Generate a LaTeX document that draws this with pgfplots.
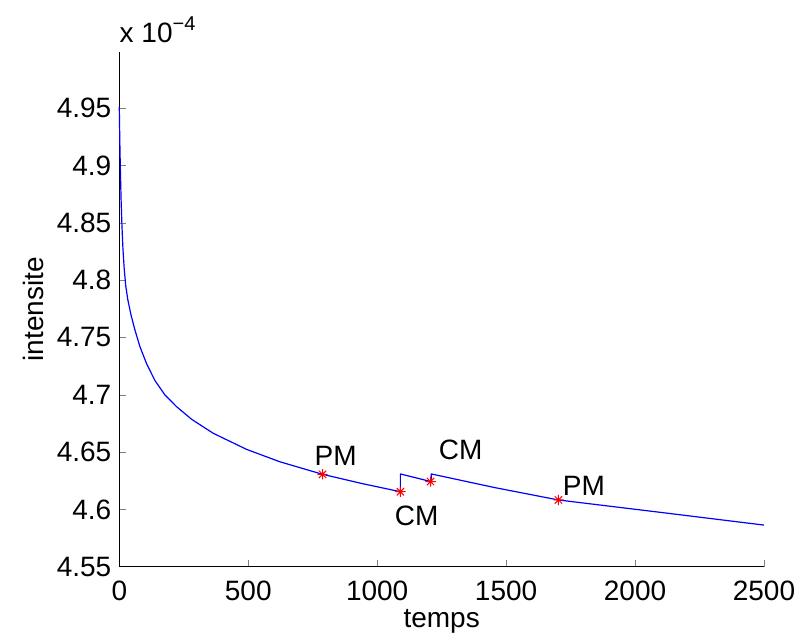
\documentclass[border=0pt]{standalone}
\usepackage{pgfplots}
\pgfplotsset{compat=1.18}
\usepackage{fontspec}
\setmainfont{Liberation Sans}
\pgfdeclareplotmark{mstar}{%
  \pgfpathmoveto{\pgfqpoint{0pt}{\pgfplotmarksize}}%
  \pgfpathlineto{\pgfqpoint{0pt}{-\pgfplotmarksize}}%
  \pgfpathmoveto{\pgfqpoint{\pgfplotmarksize}{0pt}}%
  \pgfpathlineto{\pgfqpoint{-\pgfplotmarksize}{0pt}}%
  \pgfpathmoveto{\pgfqpoint{0.707\pgfplotmarksize}{0.707\pgfplotmarksize}}%
  \pgfpathlineto{\pgfqpoint{-0.707\pgfplotmarksize}{-0.707\pgfplotmarksize}}%
  \pgfpathmoveto{\pgfqpoint{0.707\pgfplotmarksize}{-0.707\pgfplotmarksize}}%
  \pgfpathlineto{\pgfqpoint{-0.707\pgfplotmarksize}{0.707\pgfplotmarksize}}%
  \pgfusepathqstroke}
\newcommand{\lbl}{\fontsize{14}{16}\selectfont}
\begin{document}
\begin{tikzpicture}
\begin{axis}[
  scale only axis,
  width=322.35pt, height=257.35pt,
  xmin=0, xmax=2500, ymin=4.55, ymax=4.999,
  axis x line*=bottom, axis y line*=left,
  tick pos=left, tick align=inside,
  major tick length=3.3pt,
  xtick={0,500,1000,1500,2000,2500},
  xticklabels={0,500,1000,1500,2000,2500},
  ytick={4.55,4.6,4.65,4.7,4.75,4.8,4.85,4.9,4.95},
  yticklabels={4.55,4.6,4.65,4.7,4.75,4.8,4.85,4.9,4.95},
  /pgf/number format/assume math mode=true,
  ticklabel style={font=\lbl, inner sep=0pt},
  xticklabel style={anchor=base, yshift=-17pt},
  yticklabel style={anchor=east, xshift=-3.8pt},
  xlabel={temps}, ylabel={intensite},
  label style={font=\lbl, inner sep=0pt},
  xlabel style={at={(axis description cs:0.5,-0.1172)}, anchor=base},
  ylabel style={at={(axis description cs:-0.1168,0.5)}, anchor=base, rotate=0},
  clip=false,
]
\addplot[blue, line width=0.6pt, line join=round] coordinates {
(0,4.951) (1,4.935) (2.5,4.915) (4.5,4.893) (7,4.870) (10,4.849) (14,4.828)
(19,4.810) (25,4.795) (33,4.783) (45,4.770) (60,4.757) (80,4.742)
(106,4.727) (138,4.7125) (177,4.6998) (222,4.6896) (281,4.6785)
(364,4.6664) (494,4.6523) (623,4.6415) (788,4.6306) (940,4.6226)
(1090,4.6154) (1090,4.6309) (1209,4.6242) (1210,4.6309) (1456,4.6190)
(1703,4.6082) (2102,4.5973) (2500,4.5863)
};
\addplot[only marks, mark=mstar, mark size=2.6pt, red, mark options={line width=0.5pt}] coordinates {
(788,4.6306) (1090,4.6154) (1207,4.6243) (1703,4.6082)
};
\node[font=\lbl, anchor=base west, inner sep=0pt] at (axis cs:756,4.6387) {PM};
\node[font=\lbl, anchor=base west, inner sep=0pt] at (axis cs:1067,4.5855) {CM};
\node[font=\lbl, anchor=base west, inner sep=0pt] at (axis cs:1238,4.6437) {CM};
\node[font=\lbl, anchor=base west, inner sep=0pt] at (axis cs:1719,4.6117) {PM};
\node[font=\lbl, anchor=base west, inner sep=0pt] at (rel axis cs:0,1) [yshift=4.5pt] {x 10\raisebox{6.3pt}{\fontsize{10}{12}\selectfont −4}};
\end{axis}
\pgfresetboundingbox
\path (current axis.south west) ++(-59.65pt,-35.15pt) rectangle ++(400pt,318.5pt);
\end{tikzpicture}
\end{document}
